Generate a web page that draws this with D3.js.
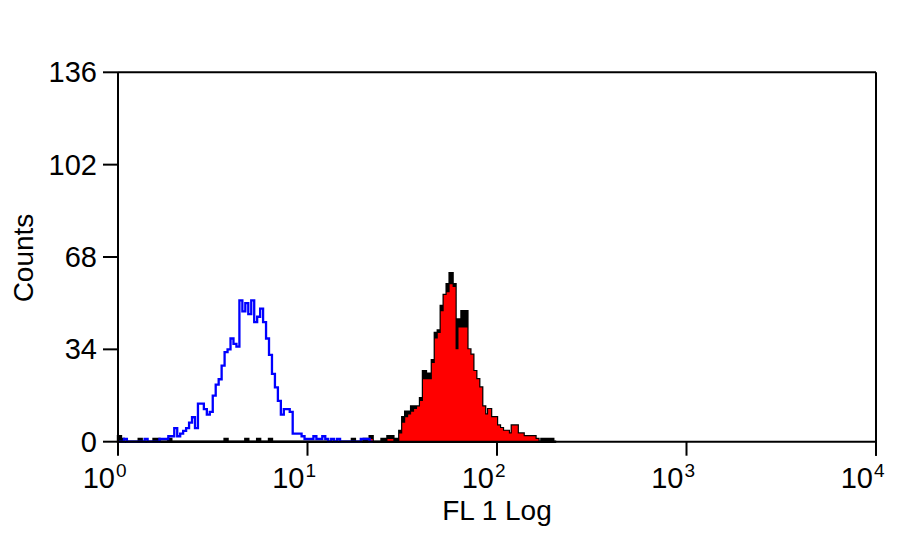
<!DOCTYPE html>
<html>
<head>
<meta charset="utf-8">
<script src="https://cdn.jsdelivr.net/npm/d3@7"></script>
<style>
  body { margin: 0; background: #fff; }
  text { font-family: "Liberation Sans", Arial, sans-serif; fill: #000; }
</style>
</head>
<body>
<div id="chart"></div>
<script>
// Histogram data: 256 log channels over 4 decades (64 channels per decade)
const channelsPerDecade = 64;

// Control (blue outline), counts per channel starting at channel 0
const controlCounts = [
    0, 0, 1, 0, 0, 0, 0, 0, 0, 1, 0, 0, 0, 0, 1, 1,
    1, 2, 2, 5, 2, 3, 4, 5, 7, 9, 5, 14, 14, 12, 10, 11,
    17, 21, 23, 28, 33, 34, 38, 36, 35, 52, 48, 51, 47, 52, 44, 46,
    49, 44, 38, 32, 25, 20, 15, 10, 12, 12, 11, 3, 3, 3, 2, 1,
    1, 1, 2, 1, 1, 2, 1, 0, 1, 0, 1, 0, 0, 0, 0, 0,
    0, 0, 1, 1, 1, 0
];

// Sample (black outline), counts per channel starting at channel 0
const sampleCounts = [
    2, 1, 0, 0, 0, 0, 0, 1, 0, 0, 0, 0, 1, 1, 0, 0,
    0, 1, 0, 0, 0, 0, 0, 0, 0, 0, 0, 0, 0, 0, 0, 0,
    0, 0, 0, 0, 1, 0, 0, 0, 0, 0, 0, 1, 0, 0, 0, 1,
    0, 0, 0, 1, 0, 0, 0, 0, 0, 0, 0, 0, 0, 0, 0, 0,
    0, 0, 0, 0, 0, 0, 0, 0, 0, 0, 0, 0, 0, 0, 0, 1,
    0, 0, 0, 1, 0, 2, 0, 0, 0, 1, 1, 2, 2, 1, 1, 4,
    9, 11, 11, 13, 13, 13, 16, 26, 25, 25, 30, 40, 41, 50, 54, 58,
    62, 58, 45, 45, 48, 48, 34, 32, 26, 23, 20, 13, 10, 12, 9, 9,
    6, 5, 4, 4, 3, 6, 6, 3, 3, 2, 2, 2, 2, 1, 0, 1,
    1, 1, 1, 0
];

// Sample fill (red), counts per channel starting at channel 0
const fillCounts = [
    0, 0, 0, 0, 0, 0, 0, 0, 0, 0, 0, 0, 0, 0, 0, 0,
    0, 0, 0, 0, 0, 0, 0, 0, 0, 0, 0, 0, 0, 0, 0, 0,
    0, 0, 0, 0, 0, 0, 0, 0, 0, 0, 0, 0, 0, 0, 0, 0,
    0, 0, 0, 0, 0, 0, 0, 0, 0, 0, 0, 0, 0, 0, 0, 0,
    0, 0, 0, 0, 0, 0, 0, 0, 0, 0, 0, 0, 0, 0, 0, 0,
    0, 0, 0, 0, 0, 1, 0, 0, 0, 0, 0, 1, 1, 0, 0, 3,
    7, 9, 10, 11, 12, 13, 15, 23, 23, 23, 29, 38, 40, 48, 54, 55,
    58, 57, 34, 42, 42, 42, 34, 32, 26, 23, 20, 13, 10, 12, 9, 9,
    6, 5, 4, 4, 3, 6, 6, 3, 3, 2, 2, 2, 2, 1, 0, 0,
    0, 0, 0, 0
];

const yTicks = [0, 34, 68, 102, 136];
const xTicks = [1, 10, 100, 1000, 10000];
const xExponents = ["0", "1", "2", "3", "4"];
const xTitle = "FL 1 Log";
const yTitle = "Counts";

const width = 900;
const height = 543;
const margin = { left: 118, right: 24, top: 72.3, bottom: 101.3 };

const svg = d3.select("#chart")
    .append("svg")
    .attr("width", width)
    .attr("height", height);

const x = d3.scaleLog()
    .domain([1, 10000])
    .range([margin.left, width - margin.right]);

const y = d3.scaleLinear()
    .domain([0, 136])
    .range([height - margin.bottom, margin.top]);

// Turn a count array into step points (channel start edges, plus closing edge)
function toSteps(counts) {
    const pts = counts.map((c, i) => ({ v: Math.pow(10, i / channelsPerDecade), c: c }));
    pts.push({ v: Math.pow(10, counts.length / channelsPerDecade), c: 0 });
    return pts;
}

const area = d3.area()
    .curve(d3.curveStepAfter)
    .x(d => x(d.v))
    .y0(y(0))
    .y1(d => y(d.c));

const line = d3.line()
    .curve(d3.curveStepAfter)
    .x(d => x(d.v))
    .y(d => y(d.c));

// Sample histogram: black outline with red fill
svg.append("path")
    .datum(toSteps(sampleCounts))
    .attr("d", area)
    .attr("fill", "#000")
    .attr("stroke", "#000")
    .attr("stroke-width", 2.4);

svg.append("path")
    .datum(toSteps(fillCounts))
    .attr("d", area)
    .attr("fill", "#ff0000");

// Control histogram: blue outline
svg.append("path")
    .datum(toSteps(controlCounts))
    .attr("d", line)
    .attr("fill", "none")
    .attr("stroke", "#0000ff")
    .attr("stroke-width", 2.3);

// Frame and axes
const x0 = x.range()[0], x1 = x.range()[1];
const y0 = y(0), y1 = y(136);
const frame = svg.append("g")
    .attr("stroke", "#000")
    .attr("stroke-width", 2)
    .attr("fill", "none");

frame.append("line").attr("x1", x0).attr("x2", x1).attr("y1", y0).attr("y2", y0);
frame.append("line").attr("x1", x0).attr("x2", x1).attr("y1", y1).attr("y2", y1);
frame.append("line").attr("x1", x0).attr("x2", x0).attr("y1", y1).attr("y2", y0);
frame.append("line").attr("x1", x1).attr("x2", x1).attr("y1", y1).attr("y2", y0 + 14);

// Y ticks and labels
frame.selectAll(".ytick")
    .data(yTicks)
    .enter()
    .append("line")
    .attr("x1", x0 - 15)
    .attr("x2", x0)
    .attr("y1", d => y(d))
    .attr("y2", d => y(d));

svg.selectAll(".ylabel")
    .data(yTicks)
    .enter()
    .append("text")
    .attr("x", 97)
    .attr("y", d => y(d) + 10)
    .attr("text-anchor", "end")
    .style("font-size", "29px")
    .text(d => d);

// X ticks and labels (10 with superscript exponent)
frame.selectAll(".xtick")
    .data(xTicks)
    .enter()
    .append("line")
    .attr("x1", d => x(d))
    .attr("x2", d => x(d))
    .attr("y1", y0)
    .attr("y2", y0 + 14);

svg.selectAll(".xlabel")
    .data(xTicks)
    .enter()
    .append("text")
    .attr("x", d => x(d) - 3)
    .attr("y", 488)
    .attr("text-anchor", "end")
    .style("font-size", "29px")
    .text("10");

svg.selectAll(".xexp")
    .data(xTicks)
    .enter()
    .append("text")
    .attr("x", d => x(d) - 2)
    .attr("y", 477)
    .style("font-size", "19px")
    .text((d, i) => xExponents[i]);

// Axis titles
svg.append("text")
    .attr("x", 497)
    .attr("y", 520)
    .attr("text-anchor", "middle")
    .style("font-size", "28px")
    .text(xTitle);

svg.append("text")
    .attr("transform", "translate(33,258) rotate(-90)")
    .attr("text-anchor", "middle")
    .style("font-size", "28px")
    .text(yTitle);
</script>
</body>
</html>
